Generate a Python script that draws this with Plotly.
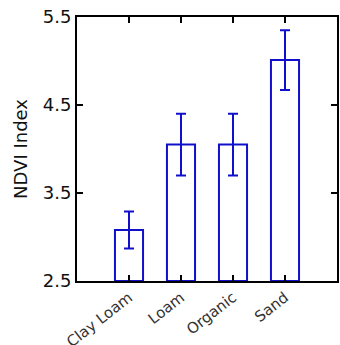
import plotly.graph_objects as go

categories = ["Clay Loam", "Loam", "Organic", "Sand"]
ndvi = [3.08, 4.05, 4.05, 5.01]
err = [0.21, 0.35, 0.35, 0.34]
yticks = [2.5, 3.5, 4.5, 5.5]

blue = "#1010cc"
fig = go.Figure(go.Bar(
    x=list(range(len(categories))), y=[v - 2.5 for v in ndvi], base=2.5,
    width=0.54, marker=dict(color="white", line=dict(color=blue, width=2)),
    error_y=dict(type="data", array=err, color=blue, thickness=2, width=5),
))
fig.update_layout(
    width=340, height=345, margin=dict(l=77, r=3, t=17, b=64),
    plot_bgcolor="white", paper_bgcolor="white", showlegend=False,
    font=dict(family="DejaVu Sans", color="#111"),
)
fig.update_xaxes(range=[-1, 4], tickvals=list(range(len(categories))), ticktext=categories,
                 tickangle=-38, tickfont=dict(size=15, color="#333"), automargin=False,
                 showline=True, linecolor="black", linewidth=2, mirror="ticks",
                 ticks="inside", ticklen=6, tickwidth=2, tickcolor="black", showgrid=False)
fig.update_yaxes(range=[2.5, 5.5], tickvals=yticks, ticktext=[str(t) for t in yticks],
                 tickfont=dict(size=18), title=dict(text="NDVI Index", font=dict(size=18), standoff=10),
                 automargin=False,
                 showline=True, linecolor="black", linewidth=2, mirror="ticks",
                 ticks="inside", ticklen=6, tickwidth=2, tickcolor="black", showgrid=False,
                 zeroline=False)
fig.write_html("out.html")
